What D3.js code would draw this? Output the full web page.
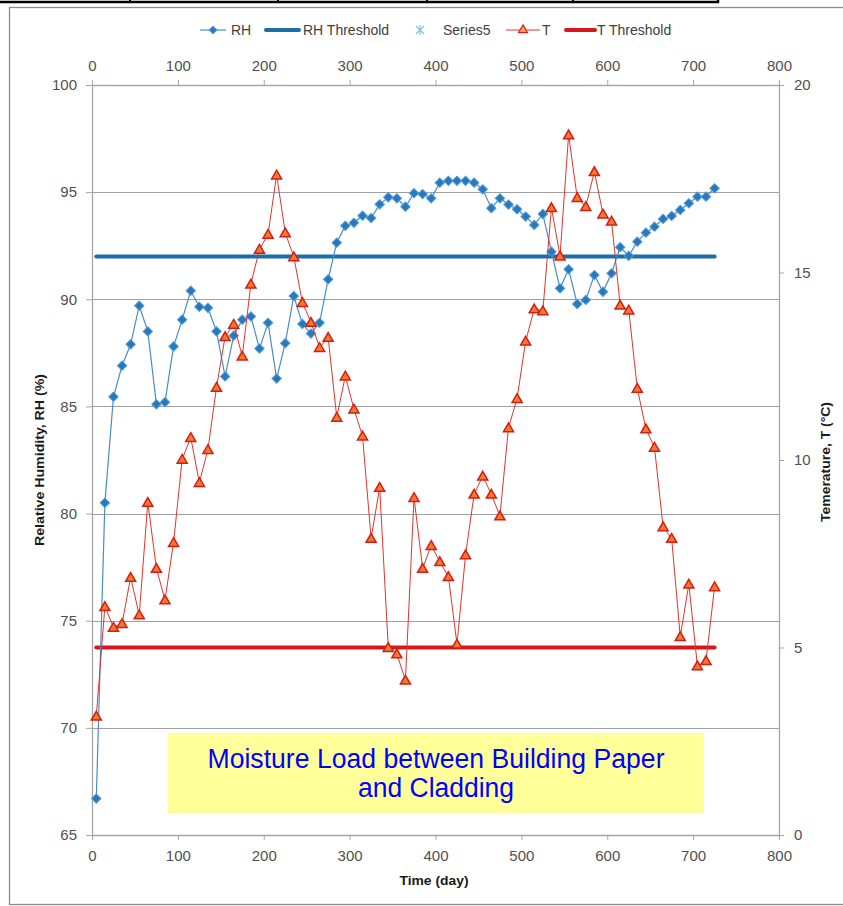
<!DOCTYPE html>
<html>
<head>
<meta charset="utf-8">
<script src="https://cdn.jsdelivr.net/npm/d3@7"></script>
<style>
  body { margin: 0; background: #fff; }
</style>
</head>
<body>
<div id="chart"></div>
<script>
// sample days (x values), one reading every ~10 days
const days = [5, 15, 25, 35, 45, 55, 65, 75, 85, 95, 105, 115, 125, 135, 145, 155, 165, 175, 185, 195,
    205, 215, 225, 235, 245, 255, 265, 275, 285, 295, 305, 315, 325, 335, 345, 355, 365, 375, 385, 395,
    405, 415, 425, 435, 445, 455, 465, 475, 485, 495, 505, 515, 525, 535, 545, 555, 565, 575, 585, 595,
    605, 615, 625, 635, 645, 655, 665, 675, 685, 695, 705, 715, 725];

// relative humidity (%)
const rhValues = [66.7, 80.5, 85.45, 86.9, 87.9, 89.7, 88.5, 85.1, 85.2, 87.8, 89.05, 90.4, 89.65, 89.6, 88.5, 86.4, 88.3, 89.05, 89.2, 87.7,
    88.9, 86.3, 87.95, 90.15, 88.85, 88.4, 88.9, 90.93, 92.64, 93.43, 93.57, 93.9, 93.79, 94.43, 94.76, 94.71, 94.32, 94.95, 94.91, 94.71,
    95.44, 95.53, 95.53, 95.53, 95.44, 95.13, 94.25, 94.71, 94.42, 94.2, 93.86, 93.47, 93.98, 92.22, 90.51, 91.4, 89.78, 89.97, 91.13, 90.35,
    91.21, 92.43, 92.03, 92.69, 93.11, 93.39, 93.75, 93.89, 94.17, 94.48, 94.79, 94.79, 95.18];

// temperature (°C), secondary axis
const tValues = [3.17, 6.09, 5.54, 5.64, 6.87, 5.87, 8.87, 7.11, 6.27, 7.8, 10.02, 10.6, 9.4, 10.28, 11.94, 13.29, 13.62, 12.77, 14.69, 15.62,
    16.02, 17.6, 16.06, 15.42, 14.2, 13.67, 13.0, 13.27, 11.14, 12.24, 11.36, 10.64, 7.91, 9.27, 5.0, 4.83, 4.13, 9.0, 7.11, 7.72,
    7.29, 6.89, 5.09, 7.47, 9.09, 9.57, 9.09, 8.51, 10.86, 11.64, 13.17, 14.03, 13.98, 16.73, 15.44, 18.67, 17.0, 16.76, 17.69, 16.56,
    16.37, 14.13, 14.0, 11.91, 10.83, 10.34, 8.22, 7.91, 5.29, 6.69, 4.51, 4.65, 6.62];

const rhThreshold = 92;
const tThreshold = 5;
const thresholdSpan = [5, 725];

const xTicks = [0, 100, 200, 300, 400, 500, 600, 700, 800];
const rhTicks = [65, 70, 75, 80, 85, 90, 95, 100];
const tTicks = [0, 5, 10, 15, 20];

const legendItems = ['RH', 'RH Threshold', 'Series5', 'T', 'T Threshold'];
const noteLines = ['Moisture Load between Building Paper', 'and Cladding'];

class MoistureChart {
    constructor(selector) {
        this.selector = selector;
        this.width = 843;
        this.height = 906;
        this.margin = { left: 92, right: 779, top: 85, bottom: 835 };
        this.init();
    }

    init() {
        this.createSvg();
        this.createScales();
        this.drawFrame();
        this.drawGrid();
        this.drawAxes();
        this.drawSeries();
        this.drawLegend();
        this.drawNote();
    }

    createSvg() {
        this.svg = d3.select(this.selector)
            .append('svg')
            .attr('width', this.width)
            .attr('height', this.height)
            .style('font-family', '"Liberation Sans", Arial, sans-serif');
    }

    createScales() {
        const m = this.margin;
        this.x = d3.scaleLinear().domain([0, 800]).range([m.left, m.right]);
        this.yRH = d3.scaleLinear().domain([65, 100]).range([m.bottom, m.top]);
        this.yT = d3.scaleLinear().domain([0, 20]).range([m.bottom, m.top]);
    }

    drawFrame() {
        // the bit of table poking in at the very top
        this.svg.append('rect')
            .attr('x', -2).attr('y', -6).attr('width', 720).attr('height', 8)
            .attr('fill', '#fff').attr('stroke', '#000').attr('stroke-width', 2.5);
        [130, 278, 427, 573].forEach(px => {
            this.svg.append('line')
                .attr('x1', px).attr('x2', px).attr('y1', 0).attr('y2', 2)
                .attr('stroke', '#000').attr('stroke-width', 2);
        });

        // chart area border
        this.svg.append('rect')
            .attr('x', 9.5).attr('y', 7.5).attr('width', 850).attr('height', 897)
            .attr('fill', 'none').attr('stroke', '#8c8c8c').attr('stroke-width', 1.3);
    }

    drawGrid() {
        const m = this.margin;
        this.svg.append('g')
            .selectAll('line')
            .data(rhTicks.filter(v => v > 65 && v < 100))
            .enter()
            .append('line')
            .attr('x1', m.left).attr('x2', m.right)
            .attr('y1', d => Math.round(this.yRH(d)) + 0.5)
            .attr('y2', d => Math.round(this.yRH(d)) + 0.5)
            .attr('stroke', '#a0a0a0')
            .attr('stroke-width', 1.2);
    }

    styleAxis(g) {
        g.select('.domain').attr('stroke', '#a6a6a6').attr('stroke-width', 1.3);
        g.selectAll('.tick line').attr('stroke', '#a6a6a6');
        g.selectAll('.tick text').attr('fill', '#505050').style('font-size', '15px');
    }

    drawAxes() {
        const m = this.margin;

        const bottom = this.svg.append('g')
            .attr('transform', `translate(0,${m.bottom})`)
            .call(d3.axisBottom(this.x).tickValues(xTicks).tickSize(5).tickSizeOuter(0).tickPadding(10));
        this.styleAxis(bottom);

        const top = this.svg.append('g')
            .attr('transform', `translate(0,${m.top})`)
            .call(d3.axisTop(this.x).tickValues(xTicks).tickSize(5).tickSizeOuter(0).tickPadding(9));
        this.styleAxis(top);

        const left = this.svg.append('g')
            .attr('transform', `translate(${m.left},0)`)
            .call(d3.axisLeft(this.yRH).tickValues(rhTicks).tickSize(6).tickSizeOuter(0).tickPadding(9));
        this.styleAxis(left);

        const right = this.svg.append('g')
            .attr('transform', `translate(${m.right},0)`)
            .call(d3.axisRight(this.yT).tickValues(tTicks).tickSize(5).tickSizeOuter(0).tickPadding(10));
        this.styleAxis(right);

        // axis titles
        this.svg.append('text')
            .attr('transform', `translate(39,${(m.top + m.bottom) / 2}) rotate(-90)`)
            .attr('text-anchor', 'middle')
            .attr('dominant-baseline', 'central')
            .attr('font-weight', 'bold')
            .attr('font-size', '13px')
            .attr('fill', '#1a1a1a')
            .attr('textLength', 172).attr('lengthAdjust', 'spacingAndGlyphs')
            .text('Relative Humidity, RH (%)');

        this.svg.append('text')
            .attr('transform', `translate(825,${(m.top + m.bottom) / 2 + 2}) rotate(-90)`)
            .attr('text-anchor', 'middle')
            .attr('dominant-baseline', 'central')
            .attr('font-weight', 'bold')
            .attr('font-size', '13px')
            .attr('fill', '#1a1a1a')
            .attr('textLength', 120).attr('lengthAdjust', 'spacingAndGlyphs')
            .text('Temerature, T (°C)');

        this.svg.append('text')
            .attr('x', 434).attr('y', 880)
            .attr('text-anchor', 'middle')
            .attr('dominant-baseline', 'central')
            .attr('font-weight', 'bold')
            .attr('font-size', '13px')
            .attr('fill', '#1a1a1a')
            .attr('textLength', 69).attr('lengthAdjust', 'spacingAndGlyphs')
            .text('Time (day)');
    }

    drawSeries() {
        const rhData = days.map((d, i) => ({ day: d, v: rhValues[i] }));
        const tData = days.map((d, i) => ({ day: d, v: tValues[i] }));

        // threshold lines go underneath
        this.svg.append('line')
            .attr('x1', this.x(thresholdSpan[0])).attr('x2', this.x(thresholdSpan[1]))
            .attr('y1', this.yRH(rhThreshold)).attr('y2', this.yRH(rhThreshold))
            .attr('stroke', '#1c6ea8').attr('stroke-width', 4).attr('stroke-linecap', 'round');

        this.svg.append('line')
            .attr('x1', this.x(thresholdSpan[0])).attr('x2', this.x(thresholdSpan[1]))
            .attr('y1', this.yT(tThreshold)).attr('y2', this.yT(tThreshold))
            .attr('stroke', '#d9161c').attr('stroke-width', 4).attr('stroke-linecap', 'round');

        // RH line + diamonds
        const rhLine = d3.line().x(d => this.x(d.day)).y(d => this.yRH(d.v));
        this.svg.append('path')
            .datum(rhData)
            .attr('d', rhLine)
            .attr('fill', 'none')
            .attr('stroke', '#4a8cc4')
            .attr('stroke-width', 1.2);

        this.svg.append('g')
            .selectAll('path')
            .data(rhData)
            .enter()
            .append('path')
            .attr('d', d3.symbol(d3.symbolSquare, 44))
            .attr('transform', d => `translate(${this.x(d.day)},${this.yRH(d.v)}) rotate(45)`)
            .attr('fill', '#2878be')
            .attr('stroke', '#4f9ad6')
            .attr('stroke-width', 1);

        // T line + triangles (secondary axis)
        const tLine = d3.line().x(d => this.x(d.day)).y(d => this.yT(d.v));
        this.svg.append('path')
            .datum(tData)
            .attr('d', tLine)
            .attr('fill', 'none')
            .attr('stroke', '#e0342c')
            .attr('stroke-width', 1);

        this.svg.append('g')
            .selectAll('path')
            .data(tData)
            .enter()
            .append('path')
            .attr('d', d3.symbol(d3.symbolTriangle, 44))
            .attr('transform', d => `translate(${this.x(d.day)},${this.yT(d.v) + 1})`)
            .attr('fill', '#f5792c')
            .attr('stroke', '#d11f17')
            .attr('stroke-width', 1.5);
    }

    drawLegend() {
        const g = this.svg.append('g').attr('class', 'legend');
        const ly = 30;
        const textStyle = sel => sel
            .attr('y', ly)
            .attr('dominant-baseline', 'central')
            .attr('font-size', '14px')
            .attr('fill', '#404040');

        // RH
        g.append('line').attr('x1', 200).attr('x2', 226).attr('y1', ly).attr('y2', ly)
            .attr('stroke', '#4a8cc4').attr('stroke-width', 1.2);
        g.append('path').attr('d', d3.symbol(d3.symbolSquare, 30))
            .attr('transform', `translate(213,${ly}) rotate(45)`)
            .attr('fill', '#2878be').attr('stroke', '#4f9ad6');
        g.append('text').attr('x', 231).call(textStyle).text(legendItems[0]);

        // RH Threshold
        g.append('line').attr('x1', 266).attr('x2', 299).attr('y1', ly).attr('y2', ly)
            .attr('stroke', '#1c6ea8').attr('stroke-width', 4).attr('stroke-linecap', 'round');
        g.append('text').attr('x', 303).call(textStyle).text(legendItems[1]);

        // Series5 - just the star marker
        const star = g.append('g').attr('transform', `translate(420,${ly})`)
            .attr('stroke', '#7fc4df').attr('stroke-width', 1.2);
        star.append('line').attr('x1', 0).attr('x2', 0).attr('y1', -5).attr('y2', 5);
        star.append('line').attr('x1', -4).attr('x2', 4).attr('y1', -4).attr('y2', 4);
        star.append('line').attr('x1', -4).attr('x2', 4).attr('y1', 4).attr('y2', -4);
        g.append('text').attr('x', 443).call(textStyle).text(legendItems[2]);

        // T
        g.append('line').attr('x1', 506).attr('x2', 540).attr('y1', ly).attr('y2', ly)
            .attr('stroke', '#e0342c').attr('stroke-width', 1);
        g.append('path').attr('d', d3.symbol(d3.symbolTriangle, 34))
            .attr('transform', `translate(523,${ly})`)
            .attr('fill', '#f5a25c').attr('stroke', '#d11f17').attr('stroke-width', 1.2);
        g.append('text').attr('x', 542).call(textStyle).text(legendItems[3]);

        // T Threshold
        g.append('line').attr('x1', 566).attr('x2', 595).attr('y1', ly).attr('y2', ly)
            .attr('stroke', '#d9161c').attr('stroke-width', 4).attr('stroke-linecap', 'round');
        g.append('text').attr('x', 597).call(textStyle).text(legendItems[4]);
    }

    drawNote() {
        const g = this.svg.append('g');
        g.append('rect')
            .attr('x', 168).attr('y', 733).attr('width', 536).attr('height', 80)
            .attr('fill', '#ffff99');

        g.selectAll('text')
            .data(noteLines)
            .enter()
            .append('text')
            .attr('x', 436)
            .attr('y', (d, i) => 768 + i * 29)
            .attr('text-anchor', 'middle')
            .attr('font-size', '27px')
            .attr('fill', '#0000ff')
            .attr('textLength', (d, i) => i === 0 ? 457 : 156)
            .attr('lengthAdjust', 'spacingAndGlyphs')
            .text(d => d);
    }
}

new MoistureChart('#chart');
</script>
</body>
</html>
